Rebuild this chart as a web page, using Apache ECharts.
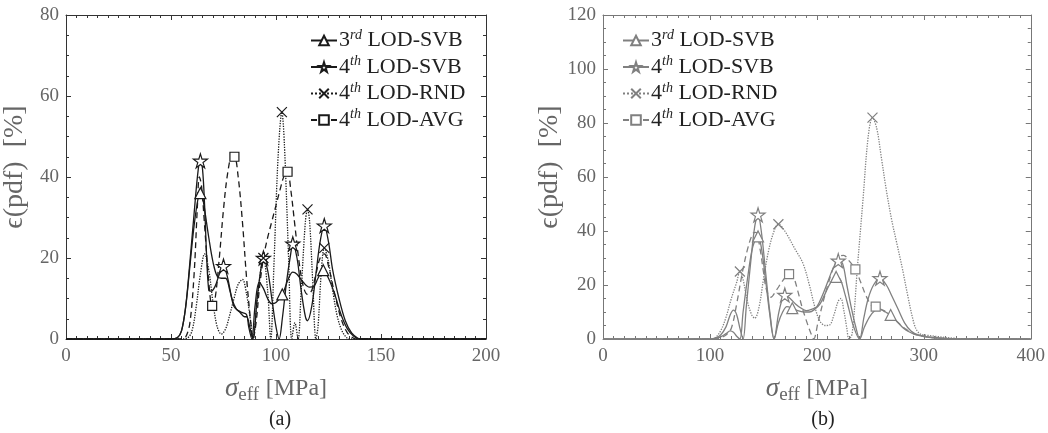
<!DOCTYPE html>
<html>
<head>
<meta charset="utf-8">
<script src="https://cdn.jsdelivr.net/npm/echarts@6/dist/echarts.min.js"></script>
<style>
  html, body { margin: 0; padding: 0; background: #fff; }
  #chart_pdf { width: 1048px; height: 433px; }
</style>
</head>
<body>
<div id="chart_pdf"></div>
<script>
/**
 * pdf of sigma_eff, (a) and (b)
 */
// legend labels
var seriesNames = ['3rd LOD-SVB', '4th LOD-SVB', '4th LOD-RND', '4th LOD-AVG'];

// (a) curves [MPa, %]
var svb3A = [[0,0],[50,0],[53,0.3],[55,2],[57,8],[59,18],[61,28],[63,35],[64,36],[65,35],[66,32],[68,25],[70,19],[72,15.5],[74,15],[76,15],[78,12],[80,8],[82,7],[84,6.5],[86,6],[87,3],[88.5,0],[90,8],[92,14],[94,12.5],[96,10],[98,8.7],[100,9],[103,11],[106,15],[108,16.5],[110,16],[113,14],[116,12.8],[118,13],[120,15],[122.5,17],[125,15],[128,11],[131,6],[134,2.5],[137,0.7],[140,0],[200,0]];
var svb4A = [[0,0],[50,0],[53,0.3],[55,2],[57,8],[59,19],[61,31],[63,42],[64,44],[65,42],[66,33],[67,20],[68,12],[69,11.8],[71,13],[73,16],[75,18],[77,15],[79,10],[81,7.5],[83,6.5],[85,5.5],[86,5.5],[87.5,3],[89,0],[91,10],[93,18],[94,20],[96,17],[98,10],[100,3],[101.5,0],[103,5],[105,14],[107,21],[108,23.5],[110,20],[112,12],[114,5.5],[115,4.5],[117,8],[119,16],[121,24],[123,28],[125,24],[127,17],[130,10],[133,4.5],[136,1.5],[139,0.2],[141,0],[200,0]];
var rndA = [[0,0],[55,0],[58,0.3],[60,2],[62,8],[64,16],[66,21],[68,17],[70,9],[72,3],[74,1.2],[76,2.5],[78,6],[80,10],[82,13.5],[84,14.7],[86,11],[88,4],[89,0],[91,9],[93,18],[94,20],[96,12],[97.5,0],[99,18],[101,45],[102.8,56],[104,48],[106,20],[107.5,0],[109,4],[110.5,0],[112,12],[114,29],[115,32],[116,29],[117.5,14],[119,0],[120,3],[121.5,16],[123,22.5],[125,19],[127,12],[129,6],[131,2.5],[133,0.7],[135,0],[200,0]];
var avgA = [[0,0],[55,0],[57,0.5],[59,4],[61,16],[62.5,32],[63.5,40],[64.5,38],[66,28],[68,14],[69.6,8.2],[71,10],[73,20],[75,32],[77,41],[79,45],[80.2,45],[82,40],[84,29],[86,15],[88,4],[89,0],[90.5,4],[92,12],[94,20],[96,25],[98,29],[100,33],[102,37],[104,40.5],[105.5,41.3],[107,37],[109,28],[111,19],[113,13],[115,11],[117,12],[119,16],[121,20],[123,21],[125,18],[128,11],[131,5],[134,1.5],[137,0.2],[139,0],[200,0]];

// (b) curves [MPa, %]
var svb3B = [[0,0],[100,0],[105,0.2],[110,0.8],[115,2],[119,3],[122,2.5],[125,1],[128,0],[131,10],[135,22],[140,34],[145,38],[148,34],[152,22],[156,9],[160,0],[164,6],[168,10],[172,12],[177,11.4],[182,10.5],[188,10],[193,10],[198,11],[203,13],[208,17],[213,21],[218,23],[222,22],[226,17],[230,11],[234,5],[240,0],[244,4],[249,8],[254,10.5],[259,11],[264,10],[269,8.9],[275,6.5],[281,4],[287,2.5],[293,1.5],[300,0.9],[310,0.4],[320,0.1],[330,0],[400,0]];
var svb4B = [[0,0],[100,0],[105,0.3],[110,1.5],[115,4.5],[119,9],[122,10.7],[125,9],[128,4],[131,0],[134,12],[138,28],[142,42],[145,46],[148,40],[152,25],[156,10],[160,0],[164,9],[167,14],[170,16.3],[175,15],[180,13],[185,11.5],[190,10.5],[195,11],[200,12],[205,16],[210,21],[215,26],[220,29],[224,28],[228,20],[232,12],[236,5],[240,0],[244,8],[248,15],[253,20],[259,22.5],[265,20],[270,16],[276,11],[282,6],[288,3],[295,1.5],[305,0.8],[315,0.4],[325,0.1],[335,0],[400,0]];
var rndB = [[0,0],[100,0],[105,0.5],[110,3],[115,8],[120,15],[125,21],[128,25],[131,22],[135,14],[139,9],[142,7.7],[146,12],[150,22],[155,33],[160,40],[164,42.5],[170,40],[180,33],[187,28],[193,20],[198,12],[203,6.5],[208,5],[212,5.2],[216,9],[220,14],[222.5,15],[225,11],[228,4],[230,0],[233,2],[238,27],[243,51],[248,75],[252,82],[256,78],[260,68],[265,55],[270,44],[275,35],[280,26],[285,16],[290,7],[293,3.5],[297,1.8],[305,1.3],[315,0.8],[325,0.4],[335,0.1],[345,0],[400,0]];
var avgB = [[0,0],[105,0],[110,0.5],[115,1.5],[120,4],[125,13],[130,24],[135,33],[140,39],[143,39.5],[147,33],[150,25],[153,18],[157,15.5],[162,18],[168,21.5],[174,24],[178,23],[182,18],[186,12],[190,7],[194,2.5],[197,0],[201,6],[206,14],[211,21],[216,27],[221,30.5],[225,31],[230,29],[236,25.8],[241,21],[246,16],[251,12.5],[255,12],[260,11],[265,10],[270,8.5],[276,6],[282,4],[290,2],[300,1],[310,0.4],[320,0.1],[330,0],[400,0]];

// x positions that carry a marker
var svb3AMarks = [64, 103, 122.5];
var svb4AMarks = [64, 75, 94, 108, 123];
var rndAMarks = [94, 102.8, 115, 123];
var avgAMarks = [69.6, 80.2, 105.5];
var svb3BMarks = [145, 177, 218, 269];
var svb4BMarks = [145, 170, 220, 259];
var rndBMarks = [128, 164, 252];
var avgBMarks = [174, 236, 255];

var FONT = 'Liberation Serif';
var starPath = 'path://M50,0 L61,35 L98,35 L68,57 L79,91 L50,70 L21,91 L32,57 L2,35 L39,35 Z';
var crossPath = 'path://M0,0 L10,10 M10,0 L0,10';

function withMarks(pts, marks) {
    return pts.map(function (p) {
        if (marks.indexOf(p[0]) >= 0) {
            return { value: p };
        }
        return { value: p, symbol: 'none' };
    });
}

function curve(id, idx, pts, marks, color, symbol, size, lineType) {
    return {
        name: id,
        type: 'line',
        xAxisIndex: idx,
        yAxisIndex: idx,
        smooth: 0.35,
        clip: true,
        data: withMarks(pts, marks),
        symbol: symbol,
        symbolSize: size,
        showSymbol: true,
        lineStyle: { color: color, width: 1.3, type: lineType },
        itemStyle: { color: '#fff', borderColor: color, borderWidth: 1.2 },
        emphasis: { disabled: true },
        z: 3
    };
}

function box(gridIdx, max, xInt, yMax, color) {
    var line = { show: true, onZero: false, lineStyle: { color: color, width: 1 } };
    var tick = { show: true, inside: true, length: 5, lineStyle: { color: color } };
    var minor = function (n) {
        return { show: true, splitNumber: n, length: 3, lineStyle: { color: color } };
    };
    return {
        x: [{
            type: 'value', gridIndex: gridIdx, min: 0, max: max, interval: xInt,
            axisLine: line, axisTick: tick, minorTick: minor(10), splitLine: { show: false },
            axisLabel: { color: '#666', fontFamily: FONT, fontSize: 19, margin: 8 },
            name: '{s|σ}{sub|eff}  {n|[MPa]}', nameLocation: 'middle', nameGap: 33,
            nameTextStyle: {
                color: '#666',
                rich: {
                    s: { fontFamily: FONT, fontSize: 27, fontStyle: 'italic', color: '#666' },
                    sub: { fontFamily: FONT, fontSize: 19, color: '#666', padding: [14, 0, 0, 0] },
                    n: { fontFamily: FONT, fontSize: 24, color: '#666' }
                }
            }
        }, {
            type: 'value', gridIndex: gridIdx, position: 'top', min: 0, max: max, interval: xInt,
            axisLine: line, axisTick: tick, minorTick: minor(10), splitLine: { show: false },
            axisLabel: { show: false }
        }],
        y: [{
            type: 'value', gridIndex: gridIdx, min: 0, max: yMax, interval: 20,
            axisLine: line, axisTick: tick, minorTick: minor(4), splitLine: { show: false },
            axisLabel: { color: '#666', fontFamily: FONT, fontSize: 19, margin: 7 },
            name: 'ϵ(pdf)  [%]', nameLocation: 'middle', nameGap: 37, nameRotate: 90,
            nameTextStyle: { color: '#666', fontFamily: FONT, fontSize: 28, padding: [0, 0, 0, 20] }
        }, {
            type: 'value', gridIndex: gridIdx, position: 'right', min: 0, max: yMax, interval: 20,
            axisLine: line, axisTick: tick, minorTick: minor(4), splitLine: { show: false },
            axisLabel: { show: false }
        }]
    };
}

var boxA = box(0, 200, 50, 80, '#333');
var boxB = box(1, 400, 100, 120, '#777');

var legendRich = {
    n: { fontFamily: FONT, fontSize: 22, color: '#222' },
    sup: { fontFamily: FONT, fontSize: 14, fontStyle: 'italic', color: '#222', padding: [0, 0, 11, 0] }
};
function legendText(name) {
    var i = +name.slice(1);
    var t = seriesNames[i];
    return '{n|' + t.slice(0, 1) + '}{sup|' + t.slice(1, t.indexOf(' ')) + '}{n|' + t.slice(t.indexOf(' ')) + '}';
}

var darkA = '#1a1a1a';
var greyB = '#808080';

var chart_pdf = echarts.init(document.getElementById('chart_pdf'));
var chart_pdf_option = {
    backgroundColor: '#fff',
    animation: false,
    title: [
        { text: '(a)', left: 275, top: 405, textAlign: 'center',
          textStyle: { fontFamily: FONT, fontSize: 20, fontWeight: 'normal', color: '#222' } },
        { text: '(b)', left: 818, top: 405, textAlign: 'center',
          textStyle: { fontFamily: FONT, fontSize: 20, fontWeight: 'normal', color: '#222' } }
    ],
    grid: [
        { left: 64, right: 562, top: 15, bottom: 94 },
        { left: 603, right: 16, top: 15, bottom: 94 }
    ],
    legend: [{
        data: ['a0', 'a1', 'a2', 'a3'],
        orient: 'vertical', left: 305, top: 23, itemGap: 3,
        itemWidth: 26, itemHeight: 12,
        formatter: legendText,
        textStyle: { rich: legendRich, padding: [0, 0, 0, -3] },
        selectedMode: false
    }, {
        data: ['b0', 'b1', 'b2', 'b3'],
        orient: 'vertical', left: 617, top: 23, itemGap: 3,
        itemWidth: 26, itemHeight: 12,
        formatter: function (name) { return legendText('a' + name.slice(1)); },
        textStyle: { rich: legendRich, padding: [0, 0, 0, -3] },
        selectedMode: false
    }],
    xAxis: boxA.x.concat(boxB.x),
    yAxis: boxA.y.concat(boxB.y),
    series: [
        curve('a0', 0, svb3A, svb3AMarks, darkA, 'triangle', 11, 'solid'),
        curve('a1', 0, svb4A, svb4AMarks, darkA, starPath, 14, 'solid'),
        curve('a2', 0, rndA, rndAMarks, darkA, crossPath, 10, 'dotted'),
        curve('a3', 0, avgA, avgAMarks, darkA, 'rect', 9, [6, 4]),
        curve('b0', 2, svb3B, svb3BMarks, greyB, 'triangle', 11, 'solid'),
        curve('b1', 2, svb4B, svb4BMarks, greyB, starPath, 14, 'solid'),
        curve('b2', 2, rndB, rndBMarks, greyB, crossPath, 10, 'dotted'),
        curve('b3', 2, avgB, avgBMarks, greyB, 'rect', 9, [6, 4])
    ]
};
chart_pdf.setOption(chart_pdf_option);
</script>
</body>
</html>
